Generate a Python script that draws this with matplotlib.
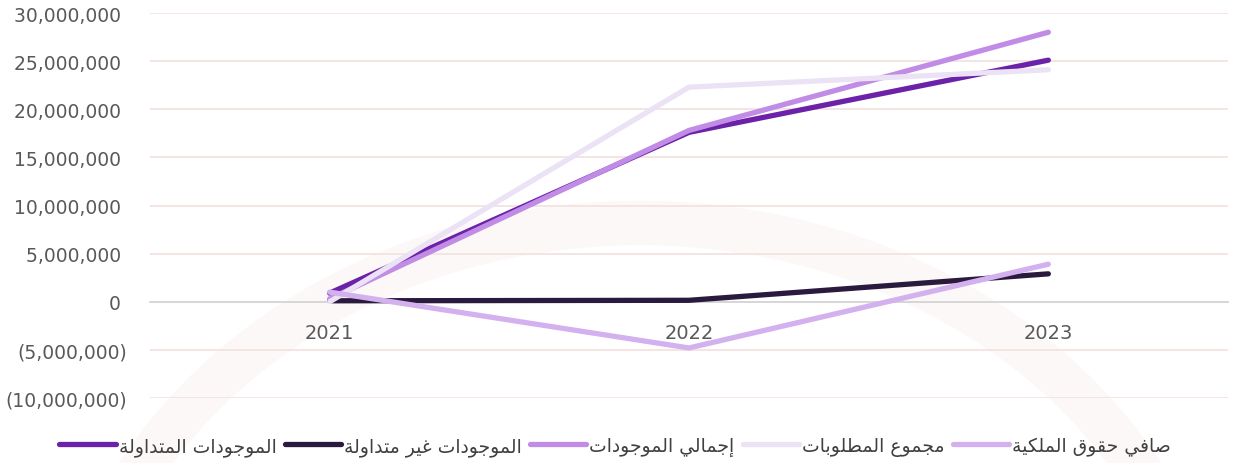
import matplotlib
matplotlib.use("Agg")
import matplotlib.pyplot as plt
from matplotlib.ticker import FuncFormatter
from matplotlib.patches import Arc

# --- data ---
years = ["2021", "2022", "2023"]
current_assets = [900000, 17600000, 25100000]
noncurrent_assets = [100000, 150000, 2900000]
total_assets = [300000, 17800000, 28000000]
total_liabilities = [0, 22300000, 24100000]
net_equity = [1000000, -4800000, 3900000]

labels = ["الموجودات المتداولة", "الموجودات غير متداولة", "إجمالي الموجودات",
          "مجموع المطلوبات", "صافي حقوق الملكية"]
colors = ["#6c22a8", "#2a1a3e", "#c18ce6", "#ebe2f5", "#d3b1ee"]

# Arabic presentation forms: isolated, final, initial, medial
FORMS = {
    "ا": ("\uFE8D", "\uFE8E", None, None),
    "إ": ("\uFE87", "\uFE88", None, None),
    "د": ("\uFEA9", "\uFEAA", None, None),
    "ر": ("\uFEAD", "\uFEAE", None, None),
    "و": ("\uFEED", "\uFEEE", None, None),
    "ة": ("\uFE93", "\uFE94", None, None),
    "ب": ("\uFE8F", "\uFE90", "\uFE91", "\uFE92"),
    "ت": ("\uFE95", "\uFE96", "\uFE97", "\uFE98"),
    "ج": ("\uFE9D", "\uFE9E", "\uFE9F", "\uFEA0"),
    "ح": ("\uFEA1", "\uFEA2", "\uFEA3", "\uFEA4"),
    "ص": ("\uFEB9", "\uFEBA", "\uFEBB", "\uFEBC"),
    "ط": ("\uFEC1", "\uFEC2", "\uFEC3", "\uFEC4"),
    "ع": ("\uFEC9", "\uFECA", "\uFECB", "\uFECC"),
    "غ": ("\uFECD", "\uFECE", "\uFECF", "\uFED0"),
    "ف": ("\uFED1", "\uFED2", "\uFED3", "\uFED4"),
    "ق": ("\uFED5", "\uFED6", "\uFED7", "\uFED8"),
    "ك": ("\uFED9", "\uFEDA", "\uFEDB", "\uFEDC"),
    "ل": ("\uFEDD", "\uFEDE", "\uFEDF", "\uFEE0"),
    "م": ("\uFEE1", "\uFEE2", "\uFEE3", "\uFEE4"),
    "ي": ("\uFEF1", "\uFEF2", "\uFEF3", "\uFEF4"),
}


def shape_arabic(text):
    # join letters then flip for left-to-right drawing
    out = []
    for i, ch in enumerate(text):
        if ch not in FORMS:
            out.append(ch)
            continue
        prev = text[i - 1] if i > 0 else None
        nxt = text[i + 1] if i + 1 < len(text) else None
        join_prev = prev in FORMS and FORMS[prev][2] is not None
        join_next = FORMS[ch][2] is not None and nxt in FORMS
        iso, fin, ini, med = FORMS[ch]
        if join_prev and join_next:
            out.append(med)
        elif join_prev:
            out.append(fin)
        elif join_next:
            out.append(ini)
        else:
            out.append(iso)
    return "".join(out)[::-1]


def fmt(v, pos):
    # excel style: negatives in brackets, positives padded by a space
    if v < 0:
        return "({:,.0f})".format(-v)
    return "{:,.0f} ".format(v)


plt.rcParams['font.family'] = ['DejaVu Sans']

fig = plt.figure(figsize=(12.44, 4.64), dpi=100)

# faint watermark arc behind everything (pixel coords, origin bottom-left)
wm = Arc((640, -250), 1150, 980, theta1=0, theta2=180, lw=32, color="#fcf8f7",
         transform=None, zorder=-5)
fig.patches.append(wm)

ax = fig.add_axes([150 / 1244, 1 - 399 / 464, 1078 / 1244, 385 / 464])
ax.patch.set_alpha(0)

series = [current_assets, noncurrent_assets, total_assets, total_liabilities, net_equity]
x = range(len(years))
for vals, lab, c in zip(series, labels, colors):
    ax.plot(x, vals, color=c, lw=3.8, solid_capstyle="round", solid_joinstyle="round",
            label=shape_arabic(lab), zorder=3)

ax.set_xlim(-0.5, 2.5)
ax.set_ylim(-10000000, 30000000)
ax.set_yticks(range(-10000000, 30000001, 5000000))
ax.yaxis.set_major_formatter(FuncFormatter(fmt))
ax.set_xticks(list(x))
ax.set_xticklabels(years)

ax.grid(axis="y", color="#f3e3df", lw=1.3, zorder=1)
for s in ["top", "right", "left"]:
    ax.spines[s].set_visible(False)
ax.spines["bottom"].set_position(("data", 0))
ax.spines["bottom"].set_color("#d6d6d6")
ax.spines["bottom"].set_linewidth(1.3)
ax.spines["bottom"].set_zorder(2)
ax.tick_params(axis="y", length=0, pad=16.5, labelsize=13.5, labelcolor="#595959")
ax.tick_params(axis="x", length=0, pad=15, labelsize=14, labelcolor="#595959")

leg = fig.legend(loc="center", bbox_to_anchor=(615 / 1244, 1 - 447 / 464), ncol=5,
                 frameon=False, fontsize=13.5, handlelength=3.0, handletextpad=0.15,
                 columnspacing=0.45, labelcolor="#404040")
for h in leg.get_lines():
    h.set_linewidth(3.8)
    h.set_solid_capstyle("round")

fig.savefig("out.png", dpi=100)
